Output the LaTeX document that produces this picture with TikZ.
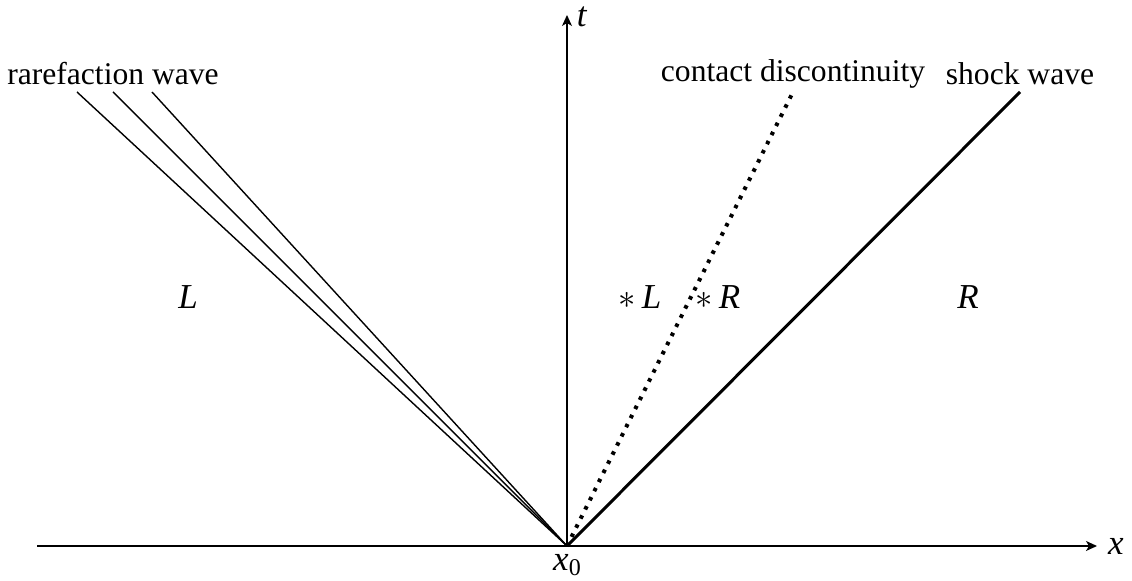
\documentclass[tikz,border=0pt]{standalone}
\usepackage{fontspec}
\setmainfont{Liberation Serif}
\usetikzlibrary{arrows.meta}
\begin{document}
\begin{tikzpicture}[x=0.5pt,y=-0.5pt,
  lbl/.style={font=\fontsize{15.8}{18}\selectfont, inner sep=0pt},
  big/.style={font=\fontsize{17.5}{20}\selectfont, inner sep=0pt},
  axis/.style={line width=0.7pt,-{Stealth[length=5.5pt,width=5pt,inset=1.5pt]}},
  fan/.style={line width=0.7pt},
  contact/.style={line width=2pt, dash pattern=on 1.8pt off 3.3pt},
  shock/.style={line width=1.5pt}]
\useasboundingbox (0,0) rectangle (1132,581);
\coordinate (O) at (567,546);
\coordinate (xs) at (37,546);
\coordinate (xe) at (1097,546);
\coordinate (te) at (567,15);
\coordinate (r1) at (77,92);
\coordinate (r2) at (113,92);
\coordinate (r3) at (152,92);
\coordinate (c) at (793,92);
\coordinate (s) at (1020,92);
\draw[axis] (xs) -- (xe);
\draw[axis] (O) -- (te);
\draw[fan] (O) -- (r1);
\draw[fan] (O) -- (r2);
\draw[fan] (O) -- (r3);
\draw[contact] (O) -- (c);
\draw[shock] (O) -- (s);
\node[big] (lx) at (1116,546) {\textit{x}};
\node[big] (lt) at (582,17) {\textit{t}};
\node[big] (lx0) at (567,565) {\textit{x}\raisebox{-0.35ex}{\fontsize{12}{13}\selectfont 0}};
\node[lbl] (lraref) at (113,74) {rarefaction wave};
\node[lbl] (lcontact) at (793,74) {contact discontinuity};
\node[lbl] (lshock) at (1020,74) {shock wave};
\node[big] (lL) at (188,297) {\textit{L}};
\node[big] (lsL) at (640,297) {$*$\,\textit{L}};
\node[big] (lsR) at (718,297) {$*$\,\textit{R}};
\node[big] (lR) at (968,297) {\textit{R}};
\end{tikzpicture}
\end{document}
